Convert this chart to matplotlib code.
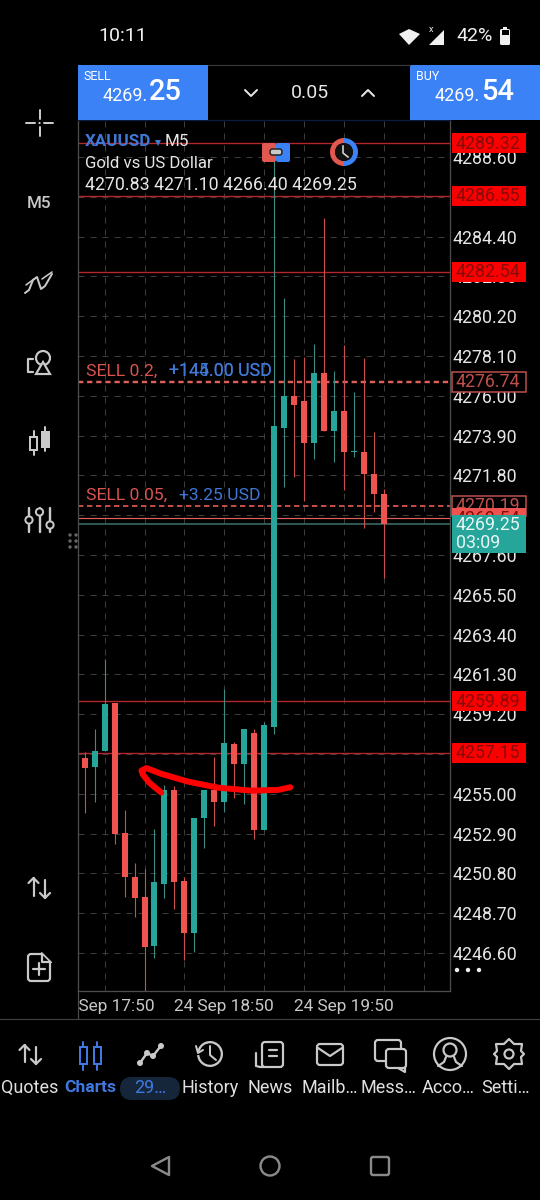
#!/usr/bin/env python
"""XAUUSD M5 candles in the MetaTrader mobile screen"""
import matplotlib
matplotlib.use("Agg")
import matplotlib.pyplot as plt
from matplotlib.patches import Rectangle, FancyBboxPatch, Circle, Wedge, Polygon
from matplotlib.transforms import Bbox, TransformedBbox

plt.rcParams['font.family'] = ['Roboto', 'DejaVu Sans']

OPENS = [4256.89, 4256.43, 4257.26, 4259.79, 4252.93, 4250.61, 4249.54, 4246.95,
         4250.26, 4255.22, 4250.38, 4247.67, 4253.74, 4255.20, 4254.55, 4257.63,
         4256.59, 4258.21, 4253.09, 4258.53, 4274.32, 4276.01, 4275.71, 4273.50,
         4277.19, 4274.16, 4275.20, 4273.02, 4273.05, 4271.88, 4270.83]
HIGHS = [4257.22, 4258.40, 4262.10, 4259.79, 4254.15, 4251.33, 4251.03, 4253.13,
         4255.45, 4255.41, 4250.63, 4253.72, 4255.19, 4256.96, 4260.52, 4257.75,
         4258.40, 4258.40, 4258.81, 4289.24, 4281.15, 4277.93, 4278.07, 4278.72,
         4285.37, 4277.30, 4278.68, 4276.22, 4277.98, 4274.11, 4271.10]
LOWS = [4253.97, 4254.55, 4257.26, 4252.35, 4249.57, 4248.52, 4244.61, 4246.35,
        4249.49, 4248.92, 4246.23, 4246.67, 4252.16, 4253.30, 4254.06, 4254.80,
        4254.48, 4252.62, 4253.09, 4258.16, 4271.21, 4271.73, 4270.42, 4272.68,
        4274.13, 4272.53, 4271.03, 4272.79, 4269.04, 4269.89, 4266.40]
CLOSES = [4256.35, 4257.26, 4259.74, 4252.90, 4250.59, 4249.52, 4246.92, 4250.33,
          4255.19, 4250.33, 4247.66, 4253.72, 4255.19, 4254.57, 4257.68, 4256.59,
          4258.40, 4253.11, 4258.63, 4274.41, 4275.99, 4275.53, 4273.50, 4277.21,
          4274.13, 4275.20, 4273.02, 4273.07, 4271.88, 4270.82, 4269.25]

PRICE_TICKS = [4288.60, 4286.50, 4284.40, 4282.30, 4280.20, 4278.10, 4276.00, 4273.90,
               4271.80, 4269.70, 4267.60, 4265.50, 4263.40, 4261.30, 4259.20, 4257.10,
               4255.00, 4252.90, 4250.80, 4248.70, 4246.60]
TIME_TICKS = [2, 6, 10, 14, 18, 22, 26, 30, 34]
TIME_LABELS = ['24 Sep 17:50', '', '', '24 Sep 18:50', '', '', '24 Sep 19:50', '', '']

LEVELS = [4289.32, 4286.55, 4282.54, 4259.89, 4257.15]
ORDERS = [4276.74, 4270.19]
ASK = 4269.54
BID = 4269.25

# freehand red mark on the chart, in bars and price
MARK_BARS = [7.68, 6.52, 5.86, 5.69, 6.19, 7.68, 10.36, 13.37, 16.71, 19.39, 20.62]
MARK_PRICES = [4255.06, 4255.56, 4255.99, 4256.22, 4256.35, 4256.05, 4255.64,
               4255.32, 4255.16, 4255.20, 4255.34]

NAV_LABELS = ['Quotes', 'Charts', 'History', 'News', 'Mailb…', 'Mess…', 'Acco…', 'Setti…']
NAV_CENTERS = [30, 90, 210, 270, 330, 389, 448, 506]

GREEN = '#26a69a'
RED = '#ef5350'
BLUE = '#3b82f6'
ICON = '#c9c9c9'
PX = 0.72  # one pixel in points at dpi 100

PRICE_TOP = 4290.55
PRICE_BOTTOM = 4244.59


def y_px(price):
    """Pixel row of a price"""
    return 120 + (PRICE_TOP - price) / (PRICE_TOP - PRICE_BOTTOM) * 871


def draw_chart(ax):
    """Candles, grid, levels and axis labels"""
    ax.set_facecolor('black')
    ax.set_xlim(-0.672, 36.64)
    ax.set_ylim(PRICE_BOTTOM, PRICE_TOP)
    ax.yaxis.tick_right()
    ax.set_yticks(PRICE_TICKS, ['%.2f' % p for p in PRICE_TICKS])
    ax.set_xticks(TIME_TICKS, TIME_LABELS)
    ax.tick_params(axis='y', length=0, pad=2, labelsize=17.8 * PX, labelcolor='#e6e6e6')
    ax.tick_params(axis='x', length=0, pad=6, labelsize=17.3 * PX, labelcolor='#c8c8c8')
    ax.grid(True, color='#3c3c3c', lw=1 * PX, linestyle=(0, (6, 6)))
    ax.set_axisbelow(True)
    for side, spine in ax.spines.items():
        spine.set_color('#4d4d4d')
        spine.set_linewidth(1.3 * PX)
    ax.spines['top'].set_color('#0c1c40')

    for level in LEVELS:
        ax.axhline(level, color='#b3262a', lw=1.4 * PX, zorder=2)
    ax.axhline(ORDERS[0], color='#e0605c', lw=2.4 * PX, linestyle=(0, (2.2, 1.6)), zorder=2)
    ax.axhline(ORDERS[1], color='#d9534f', lw=1.8 * PX, linestyle=(0, (3, 2)), zorder=2)
    ax.axhline(ASK, color='#e0605c', lw=1.2 * PX, zorder=2)
    ax.axhline(BID, color='#3e6b66', lw=1.6 * PX, zorder=2)

    bars = range(len(OPENS))
    colors = [GREEN if c >= o else RED for o, c in zip(OPENS, CLOSES)]
    wicks = ['#3f8a82' if c >= o else '#c9504d' for o, c in zip(OPENS, CLOSES)]
    ax.vlines(bars, LOWS, HIGHS, colors=wicks, lw=1.1 * PX, zorder=3)
    bottoms = [min(o, c) for o, c in zip(OPENS, CLOSES)]
    heights = [max(abs(o - c), 0.05) for o, c in zip(OPENS, CLOSES)]
    ax.bar(bars, heights, bottom=bottoms, width=0.6, color=colors, zorder=4)

    ax.plot(MARK_BARS, MARK_PRICES, color='#ff0000', lw=6 * PX, zorder=6,
            solid_capstyle='round', solid_joinstyle='round')


def line(ui, xs, ys, width=2.0, color=ICON):
    ui.plot(xs, ys, color=color, lw=width * PX, solid_capstyle='round', solid_joinstyle='round')


def label(ui, x, y, text, size, color='#e6e6e6', ha='left', **kw):
    ui.text(x, y, text, fontsize=size * PX, color=color, ha=ha, va='center', **kw)


def price_box(ui, price, fill, edge, text_color, order=10):
    y = y_px(price)
    ui.add_patch(Rectangle((452, y - 10), 74, 20, fc=fill, ec=edge, lw=1.5 * PX, zorder=order))
    ui.text(456, y + 0.5, '%.2f' % price, fontsize=17.8 * PX, color=text_color,
            va='center', ha='left', zorder=order + 1)


def candle_icon(ui, x, top, bottom, body_top, body_bottom, color, filled=True):
    line(ui, [x, x], [top, bottom], 2.0, color)
    ui.add_patch(Rectangle((x - 3.5, body_top), 7, body_bottom - body_top,
                           fc=color if filled else 'black', ec=color, lw=2 * PX, zorder=5))


def draw_status(ui):
    label(ui, 98, 36, '10:11', 19.5, '#f0f0f0')
    ui.add_patch(Polygon([[399, 34], [409, 29], [420, 34], [409, 45]], fc='#f0f0f0'))
    label(ui, 429, 29, 'x', 9, '#f0f0f0')
    ui.add_patch(Polygon([[429, 45], [444, 45], [444, 30]], fc='#f0f0f0'))
    label(ui, 456, 36, '42%', 19.5, '#f0f0f0')
    ui.add_patch(FancyBboxPatch((500, 29), 10, 16, boxstyle='round,pad=0,rounding_size=1.5',
                                fc='#f0f0f0', ec='none'))
    ui.add_patch(Rectangle((503, 26.5), 4, 3, fc='#f0f0f0'))
    ui.add_patch(Rectangle((501.5, 30), 7, 5, fc='black'))


def draw_trade_bar(ui):
    ui.add_patch(Rectangle((78, 64.5), 130, 55.5, fc=BLUE))
    ui.add_patch(Rectangle((410, 64.5), 130, 55.5, fc=BLUE))
    line(ui, [208, 410], [65, 65], 1.2, '#3a3a3a')
    label(ui, 84, 76, 'SELL', 12.5, 'white')
    label(ui, 416, 76, 'BUY', 12.5, 'white')
    label(ui, 148, 96, '4269.', 18, 'white', ha='right')
    label(ui, 480, 96, '4269.', 18, 'white', ha='right')
    label(ui, 149, 92, '25', 29, 'white', fontweight='medium')
    label(ui, 481, 92, '54', 29, 'white', fontweight='medium')
    label(ui, 310, 93, '0.05', 19.5, '#e6e6e6', ha='center')
    line(ui, [245, 251, 257], [90, 96, 90], 2, '#e6e6e6')
    line(ui, [362, 368, 374], [96, 90, 96], 2, '#e6e6e6')


def draw_chart_text(ui):
    label(ui, 85, 142, 'XAUUSD', 17, '#3f78d6', fontweight='bold')
    ui.add_patch(Polygon([[155, 140], [161, 140], [158, 146]], fc='#3f78d6'))
    label(ui, 165, 142, 'M5', 17)
    label(ui, 85, 163, 'Gold vs US Dollar', 16.7)
    label(ui, 85, 185, '4270.83 4271.10 4266.40 4269.25', 17.8)
    label(ui, 86, 371, 'SELL 0.2,', 17.5, '#d9534f')
    label(ui, 169, 371, '+144.00 USD', 17.7, '#3f78d6')
    label(ui, 169, 371, '+145.00 USD', 17.7, '#3f78d6')
    label(ui, 86, 495, 'SELL 0.05,', 17.5, '#d9534f')
    label(ui, 179, 495, '+3.25 USD', 17.5, '#3f78d6')

    # drag handle and clock markers on the top level
    ui.add_patch(FancyBboxPatch((262, 143), 14, 19, boxstyle='round,pad=0,rounding_size=2',
                                fc='#e0584f', ec='none', zorder=7))
    ui.add_patch(FancyBboxPatch((276, 143), 14, 19, boxstyle='round,pad=0,rounding_size=2',
                                fc=BLUE, ec='none', zorder=7))
    ui.add_patch(FancyBboxPatch((270, 149), 12, 6, boxstyle='round,pad=0,rounding_size=2.5',
                                fc='#c9c9c9', ec='#222222', lw=1.5 * PX, zorder=8))
    ui.add_patch(Wedge((344, 152), 14, 90, 270, width=5, fc='#e0584f', zorder=7))
    ui.add_patch(Wedge((344, 152), 14, 270, 90, width=5, fc=BLUE, zorder=7))
    ui.add_patch(Circle((344, 152), 9, fc='#111111', zorder=7))
    ui.plot([343, 343, 348], [146, 153, 157], color='#d8d8d8', lw=1.6 * PX, zorder=8)

    for x in (70, 76):
        for y in (535, 541, 547):
            ui.add_patch(Circle((x, y), 1.7, fc='#666666', ec='none', zorder=8))
    for x in (457, 468, 479):
        ui.add_patch(Circle((x, 970), 2.2, fc='#eeeeee', ec='none', zorder=8))


def draw_price_boxes(ui):
    for level in LEVELS:
        price_box(ui, level, '#fa0000', 'none', '#8a0a0a')
    price_box(ui, ORDERS[0], 'black', '#c0504d', '#c0504d')
    price_box(ui, ORDERS[1], 'black', '#c0504d', '#c0504d')
    price_box(ui, ASK, RED, 'none', '#8a0a0a', order=12)
    ui.add_patch(Rectangle((452, 514.5), 74, 38.5, fc=GREEN, zorder=14))
    ui.text(456, 524.5, '%.2f' % BID, fontsize=17.8 * PX, color='#e8f5f3', va='center', zorder=15)
    ui.text(456, 543, '03:09', fontsize=17.8 * PX, color='#e8f5f3', va='center', zorder=15)


def draw_toolbar(ui):
    # crosshair
    line(ui, [26, 35], [123, 123])
    line(ui, [44, 53], [123, 123])
    line(ui, [39.5, 39.5], [110, 119])
    line(ui, [39.5, 39.5], [127, 136])
    ui.add_patch(Circle((39.5, 123), 1.1, fc=ICON))
    label(ui, 39, 203, 'M5', 17, ICON, ha='center', fontweight='medium')
    # indicator
    line(ui, [25, 29, 33, 37, 41, 45, 52], [293, 290, 280, 277, 289, 286, 274], 2)
    line(ui, [26, 34], [285, 279], 1.6)
    line(ui, [42, 52], [279, 272], 1.6)
    # shapes
    ui.add_patch(Circle((43, 358), 7, fc='none', ec=ICON, lw=2.2 * PX))
    ui.add_patch(Polygon([[43, 362], [50, 374], [36, 374]], fc='black', ec=ICON, lw=2.2 * PX, zorder=4))
    line(ui, [33, 28, 28, 33], [359, 359, 372, 372], 2.2)
    # candles
    candle_icon(ui, 33.5, 431, 455, 437, 450, ICON, False)
    candle_icon(ui, 45, 427, 451, 432, 447, ICON, True)
    # sliders
    for x, knob in ((29, 520), (39.5, 512), (50, 525)):
        line(ui, [x, x], [508, 532], 2.4)
        ui.add_patch(Circle((x, knob), 3.6, fc='black', ec=ICON, lw=2 * PX, zorder=5))
    arrows(ui, 33.5, 45, 878, 898)
    # new document
    ui.add_patch(FancyBboxPatch((28, 954), 22, 27, boxstyle='round,pad=0,rounding_size=3',
                                fc='none', ec=ICON, lw=2.2 * PX))
    ui.add_patch(Polygon([[42, 952], [52, 952], [52, 962]], fc='black', zorder=4))
    line(ui, [42, 42, 51], [953, 962, 962], 2.2)
    line(ui, [43, 51], [954, 962], 2.2)
    line(ui, [33, 45], [969, 969], 2.2)
    line(ui, [39, 39], [963, 975], 2.2)


def arrows(ui, x_up, x_down, top, bottom):
    line(ui, [x_up, x_up], [top, bottom - 2], 2.2)
    line(ui, [x_up - 5, x_up, x_up + 5], [top + 5, top, top + 5], 2.2)
    line(ui, [x_down, x_down], [top + 2, bottom], 2.2)
    line(ui, [x_down - 5, x_down, x_down + 5], [bottom - 5, bottom, bottom - 5], 2.2)


def draw_nav(ui):
    line(ui, [0, 540], [1019, 1019], 1.2, '#3f3f3f')
    line(ui, [78, 78], [991, 1019], 1.2, '#4d4d4d')
    arrows(ui, 24.5, 36, 1045, 1064)
    candle_icon(ui, 83, 1042, 1070, 1047, 1064, '#3f78e0', False)
    candle_icon(ui, 97, 1042, 1070, 1047, 1064, '#3f78e0', False)
    # trade line
    line(ui, [140, 147, 153, 160], [1063, 1053, 1056, 1047], 2.4)
    for x, y in ((140, 1063), (147, 1053), (153, 1056), (161, 1046)):
        ui.add_patch(Circle((x, y), 3, fc=ICON))
    # history
    ui.add_patch(Wedge((210, 1054), 13, 0, 175, width=2.3, fc=ICON))
    ui.add_patch(Wedge((210, 1054), 13, 190, 360, width=2.3, fc=ICON))
    line(ui, [196, 198, 203], [1046, 1053, 1050], 2)
    line(ui, [210, 210, 216], [1046, 1055, 1060], 2)
    # news
    ui.add_patch(FancyBboxPatch((262, 1042), 21, 25, boxstyle='round,pad=0,rounding_size=3',
                                fc='none', ec=ICON, lw=2.2 * PX))
    line(ui, [256, 256, 260, 264], [1053, 1066, 1067, 1067], 2.2)
    line(ui, [269, 277], [1050, 1050], 2.2)
    line(ui, [269, 277], [1056, 1056], 2.2)
    # mail
    ui.add_patch(FancyBboxPatch((317, 1044), 26, 21, boxstyle='round,pad=0,rounding_size=3',
                                fc='none', ec=ICON, lw=2.2 * PX))
    line(ui, [318, 330, 342], [1048, 1056, 1048], 2.2)
    # messages
    ui.add_patch(FancyBboxPatch((375, 1040), 26, 21, boxstyle='round,pad=0,rounding_size=3',
                                fc='none', ec=ICON, lw=2.2 * PX))
    ui.add_patch(FancyBboxPatch((386, 1049), 20, 19, boxstyle='round,pad=0,rounding_size=3',
                                fc='black', ec=ICON, lw=2.2 * PX, zorder=4))
    line(ui, [398, 405, 405], [1068, 1072, 1064], 2.2)
    # account
    ui.add_patch(Circle((450, 1054), 16, fc='none', ec=ICON, lw=2.2 * PX))
    ui.add_patch(Circle((450, 1050), 6.5, fc='none', ec=ICON, lw=2.2 * PX))
    line(ui, [438, 444, 446], [1066, 1062, 1057], 2.2)
    line(ui, [462, 456, 454], [1066, 1062, 1057], 2.2)
    # settings
    ui.add_patch(Polygon([[509, 1039], [514, 1044], [522, 1044], [521, 1051], [524, 1054], [521, 1057],
                          [522, 1064], [514, 1064], [509, 1069], [504, 1064], [496, 1064], [497, 1057],
                          [494, 1054], [497, 1051], [496, 1044], [504, 1044]],
                         fc='none', ec=ICON, lw=2.2 * PX, joinstyle='round'))
    ui.add_patch(Circle((509, 1054), 4.5, fc='none', ec=ICON, lw=2.2 * PX))

    for text, x in zip(NAV_LABELS, NAV_CENTERS):
        if text == 'Charts':
            ui.text(x, 1088, text, fontsize=17.5 * PX, color='#3f78e0', fontweight='bold',
                    ha='center', va='center')
        else:
            ui.text(x, 1088, text, fontsize=18 * PX, color='#e0e0e0', ha='center', va='center')
    ui.add_patch(FancyBboxPatch((120, 1077), 60, 23, boxstyle='round,pad=0,rounding_size=11.5',
                                fc='#15263a', ec='none'))
    ui.text(150, 1088, '29…', fontsize=18 * PX, color='#3f78e0', ha='center', va='center', zorder=5)

    # android buttons
    ui.add_patch(Polygon([[169, 1157], [169, 1175], [152, 1166]], fc='none', ec='#8a8a8a', lw=2.4 * PX,
                         joinstyle='round'))
    ui.add_patch(Circle((270, 1166), 9.5, fc='none', ec='#8a8a8a', lw=2.4 * PX))
    ui.add_patch(FancyBboxPatch((371, 1157), 18, 18, boxstyle='round,pad=0,rounding_size=2',
                                fc='none', ec='#8a8a8a', lw=2.4 * PX))


fig = plt.figure(figsize=(5.4, 12), dpi=100, facecolor='black')
chart = fig.add_axes([78 / 540, 1 - 991 / 1200, 372 / 540, 871 / 1200])
draw_chart(chart)

ui = fig.add_axes([0, 0, 1, 1], zorder=5)
ui.set_xlim(0, 540)
ui.set_ylim(1200, 0)
ui.axis('off')
ui.patch.set_alpha(0)

for tick_text in chart.get_xticklabels():
    tick_text.set_clip_box(TransformedBbox(Bbox([[79, 992], [540, 1019]]), ui.transData))
    tick_text.set_clip_on(True)

draw_status(ui)
draw_trade_bar(ui)
draw_chart_text(ui)
draw_price_boxes(ui)
draw_toolbar(ui)
draw_nav(ui)

fig.savefig('out.png', dpi=100, facecolor='black')
